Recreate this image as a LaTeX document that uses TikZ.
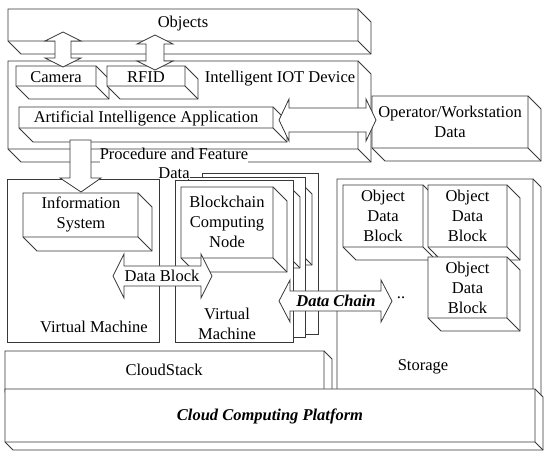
\documentclass[tikz,border=0pt]{standalone}
\usepackage{fontspec}
\setmainfont{Liberation Serif}
\tikzset{
  ln/.style={draw=black!78, line width=0.8pt, line join=miter},
  lbl/.style={font=\fontsize{16.5}{20}\selectfont, align=center, inner sep=0pt},
  bi/.style={font=\fontsize{16.5}{20}\selectfont\bfseries\itshape, align=center, inner sep=0pt},
}
% 3-D box: name, x1, y1, x2, y2, depth
\newcommand\cuboid[6]{%
  \filldraw[ln, fill=white] (#2,#3) -- (#4,#3) -- (#4+#6,#3+#6) -- (#4+#6,#5+#6) -- (#2+#6,#5+#6) -- (#2,#5) -- cycle;
  \draw[ln] (#2,#5) -- (#4,#5) -- (#4,#3) (#4,#5) -- (#4+#6,#5+#6);
  \coordinate (#1) at ({(#2+#4)/2},{(#3+#5)/2});
}
% horizontal double block arrow: xl, xr, yc, head length, head half, shaft half
\newcommand\hdarrow[6]{%
  \filldraw[ln, fill=white] (#1,#3) -- (#1+#4,#3-#5) -- (#1+#4,#3-#6) -- (#2-#4,#3-#6) -- (#2-#4,#3-#5) -- (#2,#3)
    -- (#2-#4,#3+#5) -- (#2-#4,#3+#6) -- (#1+#4,#3+#6) -- (#1+#4,#3+#5) -- cycle;
}
% vertical double block arrow: xc, yt, yb, head length, head half, shaft half
\newcommand\vdarrow[6]{%
  \filldraw[ln, fill=white] (#1,#2) -- (#1+#5,#2+#4) -- (#1+#6,#2+#4) -- (#1+#6,#3-#4) -- (#1+#5,#3-#4) -- (#1,#3)
    -- (#1-#5,#3-#4) -- (#1-#6,#3-#4) -- (#1-#6,#2+#4) -- (#1-#5,#2+#4) -- cycle;
}
\begin{document}
\begin{tikzpicture}[x=1pt, y=-1pt]
\useasboundingbox (0,0) rectangle (550,457);
\fill[white] (0,0) rectangle (550,457);

% top layer
\cuboid{obj}{8}{9}{358}{41}{13}
\node[lbl] (objects) at (183,24) {Objects};
\cuboid{iot}{8}{61}{358}{149}{13}
\node[lbl] (iotlbl) at (280,79) {Intelligent IOT Device};
\cuboid{op}{372}{96}{528}{148}{13}
\node[lbl] (operator) at (op) {Operator/Workstation\\Data};
\cuboid{cam}{16}{66}{96}{86}{13}
\node[lbl] (camera) at (56,77) {Camera};
\cuboid{rf}{107}{66}{185}{86}{13}
\node[lbl] (rfid) at (146,77) {RFID};
\vdarrow{63}{32}{67}{9}{18}{8}
\vdarrow{155}{35}{70}{9}{18}{9}
\cuboid{ai}{19}{107}{273}{128}{14}
\node[lbl] (aiapp) at (146,118) {Artificial Intelligence Application};
\hdarrow{279}{376}{120}{10}{21}{12}

% virtual machines
\draw[ln] (7,179) rectangle (159,342);
\node[lbl] (vm1) at (94,327) {Virtual Machine};

\filldraw[ln, fill=white] (202,173) rectangle (318,334);
\cuboid{bc3}{206}{180}{298}{251}{14}
\filldraw[ln, fill=white] (188,177) rectangle (305,337);
\cuboid{bc2}{194}{183}{286}{254}{14}
\filldraw[ln, fill=white] (175,180) rectangle (293,342);
\cuboid{bc1}{181}{187}{273}{258}{14}
\node[lbl] (bcnode) at (227,222) {Blockchain\\Computing\\Node};
\node[lbl] (vm2) at (227,324) {Virtual\\Machine};

\cuboid{info}{23}{193}{138}{237}{14}
\node[lbl] (infosys) at (81,214) {Information\\System};

% down arrow
\filldraw[ln, fill=white] (70,140) -- (91,140) -- (91,178) -- (101,178) -- (81,192) -- (60,178) -- (70,178) -- cycle;
\node[lbl, fill=white, text height=8.5pt, text depth=4pt, anchor=base] (proc) at (174,160) {Procedure and Feature};
\node[lbl, fill=white, inner sep=0.5pt] (procdata) at (174,173) {Data};

% storage
\cuboid{sto}{337}{179}{533}{392}{8}
\node[lbl] (storage) at (423,367) {Storage};
\cuboid{odb1}{343}{185}{423}{247}{13}
\node[lbl] (odbA) at (odb1) {Object\\Data\\Block};
\cuboid{odb2}{428}{185}{507}{247}{13}
\node[lbl] (odbB) at (odb2) {Object\\Data\\Block};
\cuboid{odb3}{428}{257}{507}{318}{13}
\node[lbl] (odbC) at (odb3) {Object\\Data\\Block};

% data arrows
\hdarrow{113}{212}{276}{11}{22}{10}
\node[lbl] (datablock) at (162,276) {Data Block};
\hdarrow{279}{392}{301}{11}{21}{10}
\node[bi] (datachain) at (336,301) {Data Chain};
\node[lbl] (dots) at (401,298) {..};

% bottom
\cuboid{cs}{5}{351}{324}{392}{8}
\node[lbl] (cloudstack) at (164,370) {CloudStack};
\cuboid{plat}{5}{389}{535}{442}{8}
\node[bi] (platform) at (270,416) {Cloud Computing Platform};
\end{tikzpicture}
\end{document}
